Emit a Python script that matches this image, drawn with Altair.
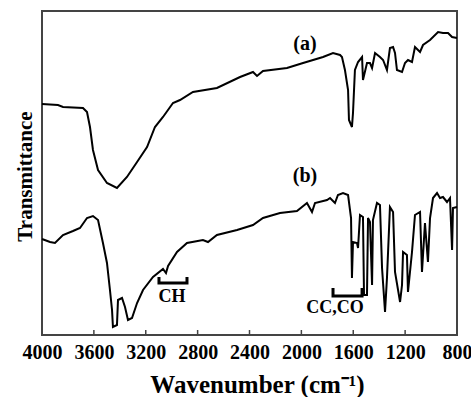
import altair as alt
import pandas as pd

# ---- data (wavenumber in cm-1, transmittance in arbitrary units) ----
a_wn = [4000, 3877, 3838, 3684, 3653, 3630, 3607, 3568, 3499, 3422, 3345, 3267, 3190, 3129,
        3067, 2990, 2936, 2836, 2651, 2473, 2373, 2342, 2296, 2111, 1987, 1833, 1756, 1702,
        1687, 1664, 1640, 1633, 1610, 1602, 1587, 1563, 1532, 1525, 1494, 1471, 1455, 1432,
        1394, 1370, 1340, 1317, 1293, 1278, 1263, 1224, 1201, 1178, 1147, 1124, 1085, 1062,
        1008, 946, 908, 869, 838, 800]
a_T = [231, 230, 228, 227, 223, 208, 185, 165, 152, 147, 158, 173, 188, 208,
       218, 232, 235, 243, 247, 258, 263, 259, 264, 267, 272, 278, 282, 280,
       278, 265, 245, 215, 208, 222, 265, 273, 278, 255, 272, 272, 267, 282,
       278, 275, 265, 287, 288, 282, 265, 263, 272, 275, 273, 288, 283, 290,
       295, 303, 302, 302, 298, 297]

b_wn = [4000, 3938, 3900, 3838, 3761, 3707, 3653, 3607, 3568, 3530, 3499, 3476, 3460, 3453,
        3422, 3414, 3383, 3360, 3337, 3306, 3267, 3221, 3144, 3067, 3044, 3028, 2959, 2882,
        2759, 2720, 2651, 2496, 2373, 2296, 2165, 2034, 1957, 1918, 1895, 1802, 1779, 1741,
        1718, 1679, 1640, 1617, 1610, 1602, 1571, 1563, 1548, 1525, 1517, 1494, 1486, 1471,
        1455, 1448, 1417, 1394, 1378, 1355, 1340, 1317, 1293, 1278, 1239, 1224, 1216, 1186,
        1178, 1147, 1124, 1085, 1070, 1047, 1024, 1008, 985, 954, 931, 908, 877, 854, 838,
        831, 800]
b_T = [96, 93, 92, 100, 104, 107, 117, 119, 115, 92, 72, 45, 25, 8,
       10, 35, 37, 28, 15, 17, 32, 45, 58, 66, 62, 69, 83, 92,
       95, 93, 100, 105, 110, 117, 122, 124, 132, 123, 132, 135, 137, 132,
       140, 142, 140, 117, 57, 93, 92, 87, 120, 118, 40, 40, 117, 113,
       50, 115, 132, 130, 67, 23, 57, 128, 123, 63, 33, 50, 83, 80,
       43, 83, 120, 123, 63, 112, 73, 117, 137, 142, 137, 138, 133, 137, 85,
       127, 128]

tick_values = [4000, 3600, 3200, 2800, 2400, 2000, 1600, 1200, 800]

label_text = ["(a)", "(b)"]
label_wn = [1972, 1972]
label_T = [285, 153]

ann_text = ["CH", "CC,CO"]
ann_wn = [2998, 1741]
ann_T = [33, 22]

ch_bracket_wn = [3098, 3098, 2882, 2882]
ch_bracket_T = [58, 52, 52, 58]
cc_bracket_wn = [1756, 1756, 1532, 1532]
cc_bracket_T = [47, 39, 39, 47]

# ---- tables ----
spectra = pd.concat([
    pd.DataFrame({"wn": a_wn, "T": a_T, "series": "a", "idx": range(len(a_wn))}),
    pd.DataFrame({"wn": b_wn, "T": b_T, "series": "b", "idx": range(len(b_wn))}),
])
brackets = pd.concat([
    pd.DataFrame({"wn": ch_bracket_wn, "T": ch_bracket_T, "br": "CH", "idx": range(4)}),
    pd.DataFrame({"wn": cc_bracket_wn, "T": cc_bracket_T, "br": "CC", "idx": range(4)}),
])
labels = pd.DataFrame({"wn": label_wn, "T": label_T, "text": label_text})
anns = pd.DataFrame({"wn": ann_wn, "T": ann_T, "text": ann_text})
ticks = pd.DataFrame({"wn": tick_values})

FONT = "Liberation Serif"

xscale = alt.Scale(domain=[800, 4000], reverse=True, nice=False, zero=False)
yscale = alt.Scale(domain=[0, 324], nice=False, zero=False)

x_axis = alt.Axis(
    values=tick_values, format="d", ticks=False, domain=False, grid=False,
    labelFont=FONT, labelFontSize=20, labelFontWeight="bold", labelColor="black",
    labelPadding=7, labelFlush=False, labelOverlap=False,
    title="Wavenumber (cm⁻¹)", titleFont=FONT, titleFontSize=25, titleFontWeight="bold",
    titleColor="black", titleX=215, titleY=57, titleAlign="center", titleBaseline="alphabetic",
)
y_axis = alt.Axis(
    labels=False, ticks=False, domain=False, grid=False,
    title="Transmittance", titleFont=FONT, titleFontSize=21, titleFontWeight="bold",
    titleColor="black", titleAngle=-90, titleX=-11, titleY=165, titleAlign="center",
    titleBaseline="alphabetic",
)

lines = alt.Chart(spectra).mark_line(color="black", strokeWidth=2).encode(
    x=alt.X("wn:Q", scale=xscale, axis=x_axis),
    y=alt.Y("T:Q", scale=yscale, axis=y_axis),
    detail="series:N",
    order="idx:Q",
)

bracket_lines = alt.Chart(brackets).mark_line(color="black", strokeWidth=3).encode(
    x=alt.X("wn:Q", scale=xscale),
    y=alt.Y("T:Q", scale=yscale),
    detail="br:N",
    order="idx:Q",
)

tick_marks = alt.Chart(ticks).mark_rule(color="#444", strokeWidth=1.5).encode(
    x=alt.X("wn:Q", scale=xscale),
    y=alt.value(324),
    y2=alt.value(319),
)

label_marks = alt.Chart(labels).mark_text(
    font=FONT, fontSize=20, fontWeight="bold", color="black", baseline="alphabetic", align="center"
).encode(
    x=alt.X("wn:Q", scale=xscale),
    y=alt.Y("T:Q", scale=yscale),
    text="text:N",
)

ann_marks = alt.Chart(anns).mark_text(
    font=FONT, fontSize=18, fontWeight="bold", color="black", baseline="alphabetic", align="center"
).encode(
    x=alt.X("wn:Q", scale=xscale),
    y=alt.Y("T:Q", scale=yscale),
    text="text:N",
)

chart = alt.layer(lines, bracket_lines, tick_marks, label_marks, ann_marks).properties(
    width=415, height=324,
    autosize=alt.AutoSizeParams(type="none"),
    padding={"left": 42, "top": 11, "right": 14, "bottom": 62},
    background="white",
).configure_view(stroke="#444", strokeWidth=2)

chart.save("out.html", embed_options={"renderer": "svg", "actions": False})
